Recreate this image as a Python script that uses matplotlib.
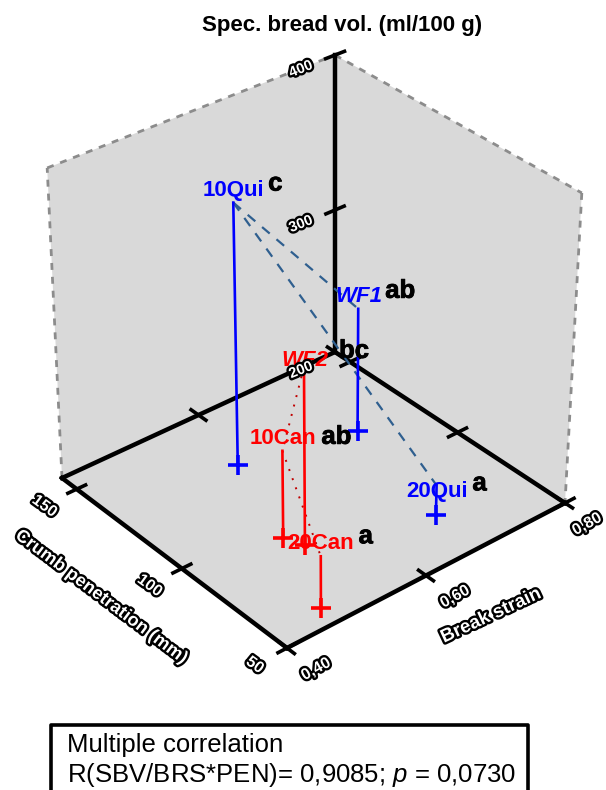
import numpy as np
import matplotlib
matplotlib.use("Agg")
import matplotlib.pyplot as plt
import matplotlib.patheffects as pe

plt.rcParams['font.family'] = ['Liberation Sans', 'DejaVu Sans']
plt.rcParams['mathtext.fontset'] = 'custom'
plt.rcParams['mathtext.it'] = 'Liberation Sans:italic'
plt.rcParams['mathtext.rm'] = 'Liberation Sans'

# ---- data ----
labels = ['10Qui', 'WF1', '10Can', '20Qui', 'WF2', '20Can']
letters = ['c', 'ab', 'ab', 'a', 'bc', 'a']
brs = [0.572, 0.718, 0.524, 0.680, 0.534, 0.474]
pen = [129.5, 120.3, 92.5, 71.4, 85.5, 58.3]
sbv = [372, 284, 258, 220, 317, 234]
colors = ['#0000ff', '#0000ff', '#ff0000', '#0000ff', '#ff0000', '#ff0000']
brs_ticks = [0.40, 0.60, 0.80]
pen_ticks = [50, 100, 150]
sbv_ticks = [200, 300, 400]
brs_ticklabels = ['0,40', '0,60', '0,80']
pen_ticklabels = ['50', '100', '150']
sbv_ticklabels = ['200', '300', '400']

# ---- projection of the 3D box onto the page (pixel space) ----
BRS0, BRS1 = 0.40, 0.80
PEN0, PEN1 = 50.0, 157.0
F = np.array([287.0, 648.0])
L = np.array([62.0, 478.0])
R = np.array([565.0, 503.0])
B = np.array([335.0, 352.0])


def project(x, y, z):
    u = (x - BRS0) / (BRS1 - BRS0)
    v = (y - PEN0) / (PEN1 - PEN0)
    p = F + u * (R - F) + v * (L - F) + u * v * (B + F - R - L)
    depth = (1 - u) + (1 - v)
    h = np.interp(z, [200, 300, 400], [0, 142, 297]) * (1 + 0.044 * depth)
    frac = h / 297.0
    k = 0.052 if p[0] < B[0] else 0.07
    return p[0] + (p[0] - B[0]) * k * frac, p[1] - h


def seg(ax, a, b, **kw):
    pa, pb = project(*a), project(*b)
    ax.plot([pa[0], pb[0]], [pa[1], pb[1]], **kw)


fig = plt.figure(figsize=(6.06, 7.90), dpi=100)
ax = fig.add_axes([0, 0, 1, 1])
ax.set_xlim(0, 606)
ax.set_ylim(790, 0)
ax.axis('off')

Z0, Z1 = sbv_ticks[0], sbv_ticks[-1]

# walls and floor
corners = [(BRS0, PEN0, Z0), (BRS1, PEN0, Z0), (BRS1, PEN1, Z0), (BRS0, PEN1, Z0)]
ax.fill(*zip(*[project(*c) for c in corners]), color='#d9d9d9', lw=0, zorder=1)
wall = [(BRS0, PEN1, Z0), (BRS0, PEN1, Z1), (BRS1, PEN1, Z1), (BRS1, PEN0, Z1), (BRS1, PEN0, Z0), (BRS1, PEN1, Z0)]
ax.fill(*zip(*[project(*c) for c in wall]), color='#d9d9d9', lw=0, zorder=1)
gray = dict(color='#8c8c8c', lw=2, ls=(0, (2.5, 2.5)), zorder=2)
seg(ax, wall[0], wall[1], **gray)
seg(ax, wall[1], wall[2], **gray)
seg(ax, wall[2], wall[3], **gray)
seg(ax, wall[3], wall[4], **gray)

# axes
black = dict(color='black', lw=3.2, zorder=3, solid_capstyle='projecting')
seg(ax, (BRS0, PEN0, Z0), (BRS1, PEN0, Z0), **black)
seg(ax, (BRS0, PEN0, Z0), (BRS0, PEN1, Z0), **black)
seg(ax, (BRS1, PEN1, Z0), (BRS1, PEN0, Z0), **black)
seg(ax, (BRS1, PEN1, Z0), (BRS0, PEN1, Z0), **black)
seg(ax, (BRS1, PEN1, Z0), (BRS1, PEN1, Z1), **black)

tick = dict(color='black', lw=2.6, zorder=3)
dv, du = 3.5, 0.013
for t in brs_ticks:
    seg(ax, (t, PEN0 - dv, Z0), (t, PEN0 + dv, Z0), **tick)
    if t > brs_ticks[0]:
        seg(ax, (t, PEN1 - dv, Z0), (t, PEN1 + dv, Z0), **tick)
for t in pen_ticks:
    seg(ax, (BRS0 - du, t, Z0), (BRS0 + du, t, Z0), **tick)
    seg(ax, (BRS1 - du, t, Z0), (BRS1 + du, t, Z0), **tick)
for t in sbv_ticks[1:]:
    seg(ax, (BRS1 - 0.013, PEN1, t), (BRS1 + 0.013, PEN1, t), **tick)

# connecting lines
P = {n: project(a, b, c) for n, a, b, c in zip(labels, brs, pen, sbv)}
for a, b in [('10Qui', 'WF1'), ('10Qui', '20Qui')]:
    ax.plot([P[a][0], P[b][0]], [P[a][1], P[b][1]], color='#2f5f8f', lw=1.6,
            ls=(0, (4.5, 4)), zorder=4)
for a, b in [('WF2', '10Can'), ('10Can', '20Can')]:
    ax.plot([P[a][0], P[b][0]], [P[a][1], P[b][1]], color='#c00000', lw=1.4,
            ls=(0, (1, 4)), zorder=4)

# stems and floor markers
for n, a, b, c, col in zip(labels, brs, pen, sbv, colors):
    seg(ax, (a, b, c), (a, b, Z0), color=col, lw=1.9, zorder=5)
    fx, fy = project(a, b, Z0)
    ax.plot([fx], [fy], marker='+', ms=15, mew=2.6, color=col, zorder=5)

# point labels: offsets (px) from the projected top of each stem
lab_off = {'10Qui': (0, -12), 'WF1': (1, -12), '10Can': (1, -12),
           '20Qui': (0, 6), 'WF2': (1, -6), '20Can': (0, -13)}
let_off = {'10Qui': (42, -19), 'WF1': (42, -18), '10Can': (54, -14),
           '20Qui': (43, -2), 'WF2': (50, -16), '20Can': (45, -20)}
for n, lt, col in zip(labels, letters, colors):
    x, y = P[n]
    wf = n.startswith('WF')
    ax.text(x + lab_off[n][0], y + lab_off[n][1], n, color=col, fontsize=16, fontweight='bold',
            fontstyle='italic' if wf else 'normal', ha='center', va='center', zorder=6)
    ax.text(x + let_off[n][0], y + let_off[n][1], lt, color='black', fontsize=18.5, fontweight='bold',
            ha='center', va='center', zorder=6,
            path_effects=[pe.withStroke(linewidth=0.6, foreground='black')])

# heavily outlined tick labels
halo = [pe.withStroke(linewidth=3.4, foreground='black')]
tk = dict(color='white', fontsize=11.5, fontweight='bold', ha='center', va='center',
          path_effects=halo, zorder=7, clip_on=True)
for t, s in zip(pen_ticks, pen_ticklabels):
    px, py = project(BRS0, t, Z0)
    ax.text(px - 32, py + 17, s, rotation=-36, **tk)
for t, s in zip(brs_ticks, brs_ticklabels):
    px, py = project(t, PEN0, Z0)
    # the last label is nudged in so that it stays inside the picture
    ax.text(px + (22 if t == brs_ticks[-1] else 29), py + 21, s, rotation=29, **tk)
for t, s in zip(sbv_ticks, sbv_ticklabels):
    px, py = project(BRS1, PEN1, t)
    ax.text(px - 34, py + (18 if t == sbv_ticks[0] else 14), s, rotation=22, **{**tk, 'fontsize': 10.5})

ax.text(101, 597, 'Crumb penetration (mm)', rotation=-37, **{**tk, 'fontsize': 13})
ax.text(491, 616, 'Break strain', rotation=25, **{**tk, 'fontsize': 13.5})

ax.text(342.5, 25, 'Spec. bread vol. (ml/100 g)', fontsize=16, fontweight='bold',
        ha='center', va='center', color='black')

# statistics box
ax.plot([51, 51, 528, 528], [795, 725, 725, 795], color='black', lw=2.6, zorder=8, clip_on=True)
ax.text(67, 745, 'Multiple correlation', fontsize=18.5, ha='left', va='center')
ax.text(67, 775, r'R(SBV/BRS*PEN)= 0,9085; $\mathit{p}$ = 0,0730', fontsize=18.5, ha='left', va='center')

fig.savefig('out.png', dpi=100)
